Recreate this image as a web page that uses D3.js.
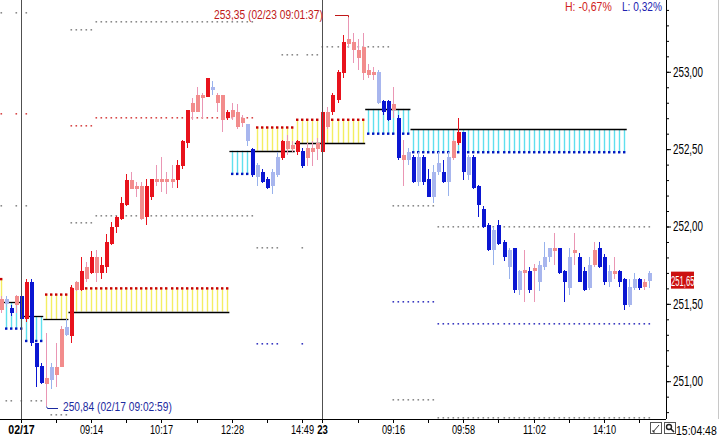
<!DOCTYPE html>
<html><head><meta charset="utf-8">
<script src="https://cdn.jsdelivr.net/npm/d3@7"></script>
<style>
html,body{margin:0;padding:0;background:#fff;overflow:hidden}
svg{display:block}
text{font-family:"Liberation Sans",Arial,sans-serif;}
</style></head><body>
<svg id="c" width="720" height="438"></svg>
<script>
// ---- candle data (index-based tick candles) ----
const open  = [251.46,251.53,251.47,251.49,251.55,251.40,251.64,251.25,251.10,250.98,251.09,251.04,251.09,251.35,251.29,251.59,251.59,251.66,251.70,251.70,
251.70,251.74,251.89,252.00,252.05,252.14,252.24,252.24,252.05,252.06,252.19,252.29,252.29,252.29,252.29,252.30,252.39,252.54,252.74,252.74,
252.83,252.84,252.90,252.80,252.69,252.70,252.71,252.64,252.67,252.66,252.50,252.40,252.35,252.31,252.35,252.45,252.44,252.50,252.50,252.48,
252.49,252.44,252.48,252.50,252.48,252.64,252.74,252.82,252.99,253.18,253.14,253.09,252.99,252.98,252.98,253.00,252.81,252.81,252.75,252.70,
252.43,252.48,252.45,252.45,252.45,252.31,252.35,252.41,252.35,252.45,252.44,252.54,252.61,252.45,252.45,252.26,252.11,252.01,251.98,252.01,
251.90,251.85,251.86,251.71,251.70,251.71,251.71,251.75,251.80,251.86,251.84,251.86,251.71,251.80,251.83,251.80,251.71,251.75,251.75,251.86,
251.80,251.71,251.69,251.71,251.66,251.61,251.66,251.66,251.61,251.70];
const high  = [251.55,251.55,251.49,251.56,251.56,251.66,251.66,251.25,251.12,251.31,251.12,251.25,251.36,251.40,251.62,251.65,251.80,251.77,251.84,251.85,
251.80,251.95,252.03,252.07,252.19,252.34,252.35,252.29,252.29,252.31,252.31,252.40,252.45,252.35,252.40,252.43,252.56,252.75,252.83,252.90,
252.86,252.96,252.94,252.86,252.85,252.75,252.80,252.79,252.72,252.66,252.51,252.41,252.37,252.32,252.37,252.48,252.56,252.59,252.55,252.56,
252.51,252.54,252.55,252.57,252.81,252.77,252.86,253.01,253.24,253.35,253.25,253.21,253.25,253.05,253.03,253.01,252.82,252.82,252.90,252.72,
252.56,252.51,252.46,252.48,252.46,252.37,252.40,252.48,252.43,252.48,252.56,252.70,252.61,252.46,252.46,252.27,252.13,252.02,252.00,252.04,
251.91,251.86,251.86,251.72,251.85,251.74,251.76,251.78,251.90,251.86,251.96,251.86,251.72,251.86,251.96,251.83,251.74,251.80,251.90,251.90,
251.82,251.75,251.80,251.72,251.67,251.66,251.70,251.67,251.66,251.71];
const low   = [251.44,251.48,251.42,251.44,251.36,251.38,251.23,250.96,250.98,250.84,250.95,250.96,251.09,251.29,251.25,251.58,251.58,251.64,251.69,251.64,
251.66,251.70,251.88,251.96,252.04,252.13,252.24,252.19,252.04,252.01,252.17,252.26,252.22,252.21,252.25,252.25,252.37,252.51,252.69,252.74,
252.70,252.84,252.85,252.74,252.61,252.69,252.69,252.63,252.64,252.52,252.32,252.26,252.28,252.24,252.21,252.32,252.43,252.46,252.48,252.46,
252.38,252.39,252.39,252.43,252.48,252.63,252.72,252.80,252.96,253.16,253.06,253.01,252.95,252.96,252.95,252.79,252.72,252.68,252.70,252.43,
252.26,252.40,252.28,252.26,252.27,252.19,252.15,252.33,252.28,252.20,252.43,252.53,252.30,252.30,252.24,252.06,251.99,251.84,251.75,251.88,
251.78,251.66,251.57,251.56,251.51,251.57,251.51,251.58,251.72,251.77,251.75,251.69,251.51,251.56,251.75,251.64,251.58,251.59,251.74,251.73,
251.62,251.61,251.66,251.61,251.46,251.48,251.59,251.59,251.59,251.60];
const close = [251.53,251.50,251.44,251.55,251.40,251.64,251.25,251.09,250.99,251.02,251.01,251.09,251.34,251.30,251.60,251.64,251.71,251.74,251.80,251.80,
251.75,251.90,252.00,252.06,252.15,252.30,252.30,252.26,252.26,252.26,252.31,252.31,252.31,252.31,252.31,252.40,252.55,252.75,252.80,252.85,
252.85,252.96,252.88,252.85,252.85,252.74,252.75,252.74,252.70,252.55,252.33,252.32,252.29,252.25,252.26,252.33,252.55,252.55,252.53,252.55,
252.39,252.51,252.51,252.54,252.74,252.74,252.85,253.00,253.19,253.21,253.19,253.14,253.16,253.01,253.00,252.80,252.74,252.69,252.79,252.44,
252.46,252.43,252.29,252.29,252.29,252.19,252.19,252.35,252.29,252.29,252.55,252.61,252.35,252.33,252.25,252.14,252.00,251.85,251.85,251.89,
251.80,251.74,251.59,251.59,251.72,251.59,251.73,251.64,251.74,251.80,251.86,251.70,251.64,251.60,251.85,251.64,251.59,251.60,251.85,251.74,
251.64,251.64,251.71,251.64,251.49,251.49,251.60,251.60,251.64,251.65];
// 1 = strong colour, 0 = pale colour
const tone  = [0,0,1,0,1,1,1,1,1,0,0,0,0,0,1,0,1,0,1,0, 1,1,1,1,1,1,0,0,0,1,1,0,0,0,0,1,1,1,0,0, 0,1,0,0,0,1,0,0,0,0,1,0,1,1,0,0,1,0,0,1,
1,0,0,0,1,0,1,1,1,0,0,0,0,0,0,0,1,1,0,1, 0,0,1,0,1,1,0,0,1,0,0,1,1,0,1,1,1,1,0,1, 1,0,1,0,0,1,0,0,0,0,0,1,1,0,0,1,1,0,0,1, 1,0,0,1,1,0,0,1,0,0];

// ---- zones (yellow = up band, cyan = down band) ----
const zoneStart  = [0, 1, 5, 9, 14, 46, 51, 59, 73, 82];
const zoneEnd    = [0, 4, 8, 13, 45, 50, 58, 72, 81, 124];
const zoneTop    = [251.66,251.51,251.42,251.56,251.60,252.49,252.64,252.69,252.76,252.63];
const zoneBottom = [251.51,251.34,251.26,251.40,251.45,252.34,252.49,252.54,252.60,252.48];
const zoneKind   = ["up","down","down","up","up","down","up","up","down","down"];

// ---- dotted reference levels ----
const levelPrice = [253.38,252.73,252.13,250.87,250.78,253.27,253.32,252.65,252.70,252.02,252.07,253.11,251.86,251.24,253.16,252.13,251.51,250.88,252.00,251.37,250.76];
const levelKind  = ["g","r","g","g","g","g","g","r","r","g","g","g","g","b","g","g","b","g","g","b","g"];
const levelSegs  = [[[0,0],[3,3],[5,5]],[[0,0],[3,3],[5,5]],[[0,0],[3,3],[5,5]],[[1,2],[4,4],[6,8]],[[10,13]],
  [[14,18]],[[19,50]],[[14,18]],[[19,50]],[[14,18]],[[19,50]],[[56,59],[61,63]],[[51,55],[60,60]],[[51,55],[60,60]],
  [[64,77]],[[78,86]],[[78,86]],[[78,86]],[[87,129]],[[87,129]],[[87,129]]];

// ---- axes ----
const xTickIdx   = [4,11,18,25,32,39,46,53,60,64,71,78,85,92,99,106,113,120,127];
const xLabelIdx  = [4,18,32,46,60,64,78,92,106,120];
const xLabels    = ["02/17","09:14","10:17","12:28","14:49","23","09:16","09:58","11:02","14:10"];
const dayIdx     = [4,64];
const yMajor     = [251.0,251.5,252.0,252.5,253.0];
const yMinor     = d3.range(250.8,253.45,0.1).map(v=>+v.toFixed(2));
const lastPrice  = 251.65;
const hiPrice = 253.35, hiIdx = 69, hiText = "253,35 (02/23 09:01:37)";
const loPrice = 250.84, loIdx = 9, loText = "250,84 (02/17 09:02:59)";
const hPct = "H: -0,67%", lPct = "L: 0,32%";
const clockText = "15:04:48";

const svg = d3.select("#c");
const plotR = 666, plotB = 419;
const x = d3.scaleLinear().domain([0,129]).range([0.5,649.4]);
const y = d3.scaleLinear().domain([251,253]).range([381.2,71.8]);
const px = i => Math.round(x(i)) + 0.5;
const comma = v => d3.format(".2f")(v).replace(".", ",");
// narrow (condensed) text: scale horizontally to the reference's width
const squeeze = (sel, perChar) => sel.each(function(){
  const t = d3.select(this), s = t.text();
  if (!s) return;
  const nat = this.getComputedTextLength();
  const sx = Math.min(1, (s.length*perChar)/nat);
  const x0 = +(t.attr("x") || 0);
  t.attr("x", x0/sx).attr("transform", `scale(${sx.toFixed(4)},1)`);
});

const g = svg.append("g");
svg.append("clipPath").attr("id","pc").append("rect").attr("x",0).attr("y",0).attr("width",plotR).attr("height",plotB);
const P = g.append("g").attr("clip-path","url(#pc)");

// zones
zoneStart.forEach((s,k)=>{
  const idx = d3.range(s, zoneEnd[k]+1);
  const up = zoneKind[k]==="up";
  const t = y(zoneTop[k]), b = y(zoneBottom[k]);
  P.selectAll(null).data(idx).enter().append("line")
    .attr("x1",px).attr("x2",px).attr("y1",t).attr("y2",b)
    .attr("stroke", up ? "#f4ee62" : "#5fe0ee").attr("stroke-width",1.4);
  const lineY = Math.round(up ? b : t) + 0.5;
  P.append("line").attr("x1",x(s)-2.5).attr("x2",x(zoneEnd[k])+2.5).attr("y1",lineY).attr("y2",lineY)
    .attr("stroke","#000").attr("stroke-width",1.3);
  P.selectAll(null).data(idx).enter().append("rect")
    .attr("x",i=>px(i)-1.5).attr("y",(up? t : b)-1.2).attr("width",2.4).attr("height",2.4)
    .attr("fill", up ? "#c80000" : "#0018c0");
});

// levels
const lvlCol = {g:"#8a8a8a", r:"#d84848", b:"#3838c0"};
levelPrice.forEach((p,k)=>{
  const idx = [];
  levelSegs[k].forEach(([a,b])=>{ for(let i=a;i<=b;i++) idx.push(i); });
  P.selectAll(null).data(idx).enter().append("rect")
    .attr("x",i=>px(i)-1).attr("y",Math.round(y(p))-1).attr("width",1.6).attr("height",1.6)
    .attr("fill", lvlCol[levelKind[k]]);
});

// day separators
dayIdx.forEach(i=>{
  g.append("line").attr("x1",px(i)).attr("x2",px(i)).attr("y1",0).attr("y2",plotB)
   .attr("stroke","#505050").attr("stroke-width",1);
});

// candles
const colFor = (i)=>{
  const up = close[i] >= open[i];
  if (up) return tone[i] ? {b:"#e8121c", w:"#e8121c"} : {b:"#f28c8c", w:"#ea96b4"};
  return tone[i] ? {b:"#0a16d2", w:"#0a16d2"} : {b:"#a8b6ee", w:"#98b2ec"};
};
const cg = P.append("g").attr("shape-rendering","crispEdges");
d3.range(open.length).forEach(i=>{
  const c = colFor(i);
  cg.append("line").attr("x1",px(i)).attr("x2",px(i)).attr("y1",y(high[i])).attr("y2",y(low[i]))
    .attr("stroke",c.w).attr("stroke-width",1);
  const top = y(Math.max(open[i],close[i])), bot = y(Math.min(open[i],close[i]));
  cg.append("rect").attr("x",Math.round(x(i))-1.5).attr("y",top).attr("width",4).attr("height",Math.max(1.5,bot-top))
    .attr("fill",c.b);
});

// annotations
g.append("text").attr("x",214).attr("y",y(hiPrice)+1.5).attr("font-size",13)
  .attr("fill","#c01818").text(hiText).call(squeeze,4.74);
g.append("path").attr("d",`M335,${Math.round(y(hiPrice))-2.5}H${px(hiIdx)}l0,2`).attr("fill","none").attr("stroke","#c01818");
g.append("text").attr("x",63).attr("y",y(loPrice)+5.5).attr("font-size",13).attr("fill","#1c2aa0").text(loText).call(squeeze,4.74);
g.append("path").attr("d",`M58,${Math.round(y(loPrice))+2.5}H${px(loIdx)+1}l-1,-2`).attr("fill","none").attr("stroke","#1c2aa0");

g.append("text").attr("x",565).attr("y",10.5).attr("font-size",12.5).attr("fill","#d02020").text(hPct).call(squeeze,5.2);
g.append("text").attr("x",622).attr("y",10.5).attr("font-size",12.5).attr("fill","#2020b0").text(lPct).call(squeeze,5.0);

// bottom axis
const labelMap = new Map(xLabelIdx.map((d,k)=>[d,xLabels[k]]));
const bx = g.append("g").attr("transform",`translate(0,${plotB})`)
  .call(d3.axisBottom(x).tickValues(xTickIdx).tickSize(4).tickPadding(2).tickFormat(i=>labelMap.get(i)||""));
bx.select(".domain").remove();
bx.selectAll(".tick line").attr("stroke","#000");
bx.selectAll(".tick").attr("transform",d=>`translate(${px(d)},0)`);
bx.selectAll(".tick text").attr("font-size",13).attr("fill","#000")
  .attr("font-family",'"Liberation Sans",Arial,sans-serif')
  .attr("font-weight",d=>dayIdx.includes(d)?"bold":"normal");
bx.selectAll(".tick text").filter(d=>!dayIdx.includes(d)).call(squeeze,4.6);
bx.selectAll(".tick text").filter(d=>dayIdx.includes(d)).call(squeeze,5.3);
g.append("line").attr("x1",0).attr("x2",plotR).attr("y1",plotB+0.5).attr("y2",plotB+0.5).attr("stroke","#000");

// right axis
const ry1 = g.append("g").attr("transform",`translate(${plotR},0)`)
  .call(d3.axisRight(y).tickValues(yMinor).tickSize(3).tickFormat(""));
ry1.select(".domain").remove();
const ry2 = g.append("g").attr("transform",`translate(${plotR},0)`)
  .call(d3.axisRight(y).tickValues(yMajor).tickSize(5).tickPadding(2).tickFormat(comma));
ry2.select(".domain").remove();
ry2.selectAll(".tick text").attr("font-size",14).attr("fill","#000")
  .attr("font-family",'"Liberation Sans",Arial,sans-serif').call(squeeze,5.0);
g.append("line").attr("x1",plotR+0.5).attr("x2",plotR+0.5).attr("y1",0).attr("y2",plotB).attr("stroke","#000");

// last price tag
const ly = y(lastPrice);
g.append("rect").attr("x",671).attr("y",ly-9).attr("width",23).attr("height",17).attr("fill","#cc1010");
g.append("text").attr("x",671).attr("y",ly+5).attr("font-size",14).attr("fill","#fff").text(comma(lastPrice)).call(squeeze,3.9);

// scrollbar edge
g.append("line").attr("x1",718.5).attr("x2",718.5).attr("y1",0).attr("y2",plotB).attr("stroke","#c8c8c8");

// bottom-right icons + clock
const ic = g.append("g");
ic.append("rect").attr("x",650.5).attr("y",422.5).attr("width",11).attr("height",11).attr("fill","#fff").attr("stroke","#555");
ic.append("path").attr("d","M653,432 L659,425 M653,432 l0,-2 M653,432 l2,0").attr("stroke","#333").attr("fill","none");
ic.append("rect").attr("x",664.5).attr("y",422.5).attr("width",11).attr("height",11).attr("fill","#fff").attr("stroke","#555");
ic.append("circle").attr("cx",669).attr("cy",427).attr("r",2.5).attr("fill","none").attr("stroke","#222").attr("stroke-width",1.4);
ic.append("path").attr("d","M671,429 L674,432").attr("stroke","#222").attr("stroke-width",1.6);
g.append("text").attr("x",676).attr("y",435).attr("font-size",13).attr("fill","#000").text(clockText).call(squeeze,5.1);
</script></body></html>
